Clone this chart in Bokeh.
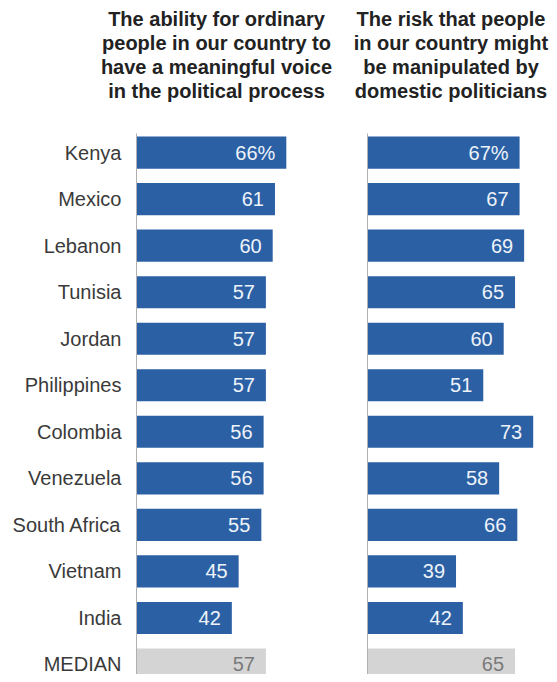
from bokeh.plotting import figure
from bokeh.models import Range1d, FixedTicker, ColumnDataSource, Title
from bokeh.layouts import row
from bokeh.embed import file_html
from bokeh.resources import INLINE
from bokeh.core.properties import value

countries = ["Kenya", "Mexico", "Lebanon", "Tunisia", "Jordan", "Philippines",
             "Colombia", "Venezuela", "South Africa", "Vietnam", "India", "MEDIAN"]
voice = [66, 61, 60, 57, 57, 57, 56, 56, 55, 45, 42, 57]
manipulated = [67, 67, 69, 65, 60, 51, 73, 58, 66, 39, 42, 65]

title_left = ["The ability for ordinary", "people in our country to",
              "have a meaningful voice", "in the political process"]
title_right = ["The risk that people", "in our country might",
               "be manipulated by", "domestic politicians"]

BLUE = "#2b61a4"
GREY_BAR = "#d4d4d4"
FONT = "Liberation Sans"
PX_PER_UNIT = 2.27


def panel(vals, title_lines, width, bl, br, show_labels):
    n = len(vals)
    idx = list(range(n))
    colors = [BLUE] * (n - 1) + [GREY_BAR]
    tcolors = ["#eef3fa"] * (n - 1) + ["#7a7a7a"]
    labels = [f"{v}%" if i == 0 else f"{v}" for i, v in enumerate(vals)]
    src = ColumnDataSource(dict(y=idx, v=vals, c=colors, tc=tcolors, lab=labels))
    frame_w = width - bl - br
    p = figure(width=width, height=674, output_backend="svg", toolbar_location=None,
               x_range=Range1d(0, frame_w / PX_PER_UNIT),
               y_range=Range1d(n - 1 + 0.215, -0.41),
               x_axis_location=None, title=None,
               min_border_left=bl, min_border_right=br,
               min_border_top=133, min_border_bottom=0)
    p.outline_line_color = None
    p.grid.visible = False
    p.hbar(y="y", left=0, right="v", height=0.69, color="c", line_color=None, source=src)
    p.text(x="v", y="y", text="lab", text_color="tc", text_align="right",
           text_baseline="middle", x_offset=-11, text_font=value(FONT),
           text_font_size="20px", source=src)
    ax = p.yaxis[0]
    ax.ticker = FixedTicker(ticks=idx)
    ax.axis_line_color = "#b0b0b0"
    ax.axis_line_width = 1
    ax.major_tick_line_color = None
    ax.minor_tick_line_color = None
    if show_labels:
        ax.major_label_overrides = {i: c for i, c in enumerate(countries)}
        ax.major_label_text_font = FONT
        ax.major_label_text_font_size = "20px"
        ax.major_label_text_color = "#3a3a3a"
        ax.major_label_standoff = 9
    else:
        ax.major_label_overrides = {i: "" for i in idx}
        ax.major_label_text_font_size = "0px"
        ax.major_label_standoff = 0
    # spacer between the title block and the bars
    p.add_layout(Title(text=" ", text_font_size="1px", standoff=29), "above")
    # stack title lines: added first = closest to the frame
    for line in reversed(title_lines):
        p.add_layout(Title(text=line, align="center", text_font=FONT,
                           text_font_size="20px", text_font_style="bold",
                           text_color="#222222", standoff=0), "above")
    return p


p1 = panel(voice, title_left, 336, 136, 40, True)
p2 = panel(manipulated, title_right, 213, 31, 15, False)
layout = row(p1, p2)

open("out.html", "w").write(file_html(layout, INLINE))
